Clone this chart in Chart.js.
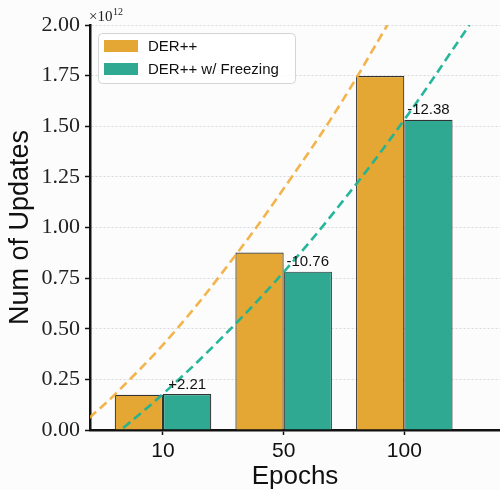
<!DOCTYPE html>
<html>
<head>
<meta charset="utf-8">
<script src="https://cdn.jsdelivr.net/npm/chart.js@4"></script>
<style>
  html, body { margin: 0; padding: 0; background: #fcfcfd; }
  #wrap { width: 500px; height: 490px; }
</style>
</head>
<body>
<div id="wrap"><canvas id="updatesChart" width="500" height="490"></canvas></div>
<script>
// categories (bar positions 0,1,2 on the x axis)
const epochs = ['10', '50', '100'];
const epochPos = [0, 1, 2];

// number of updates, in units of 1e12
const derValues = [0.174, 0.876, 1.748];
const freezeValues = [0.178, 0.782, 1.532];
const changeLabels = ['+2.21', '-10.76', '-12.38'];

// dashed trend curves
const derCurveX = [-0.61, -0.40, 0.08, 0.61, 1.05, 1.46, 1.86];
const derCurveY = [0.06, 0.175, 0.475, 0.87, 1.235, 1.60, 2.00];
const freezeCurveX = [-0.33, 0, 0.47, 1.0, 1.49, 2.0, 2.54];
const freezeCurveY = [0.01, 0.178, 0.445, 0.78, 1.13, 1.532, 2.00];

const yTicks = [0, 0.25, 0.5, 0.75, 1.0, 1.25, 1.5, 1.75, 2.0];

const orange = '#E4A733';
const green = '#2FA992';

function pts(xs, ys) {
    return xs.map((x, i) => ({ x: x, y: ys[i] }));
}

// legend box drawn inside the plot, top left
const legendBox = {
    id: 'legendBox',
    afterDraw(chart) {
        const ctx = chart.ctx;
        const items = chart.data.datasets.filter(d => d.type !== 'line');
        ctx.save();
        ctx.fillStyle = 'rgba(255,255,255,0.85)';
        ctx.strokeStyle = '#d4d4d4';
        ctx.lineWidth = 1;
        ctx.beginPath();
        ctx.roundRect(98.5, 33.5, 197, 50, 4);
        ctx.fill();
        ctx.stroke();
        ctx.font = '15px "Liberation Sans", Arial, sans-serif';
        ctx.textBaseline = 'middle';
        items.forEach((d, i) => {
            const y = 46 + i * 23;
            ctx.fillStyle = d.backgroundColor;
            ctx.fillRect(104, y - 6, 34, 12);
            ctx.fillStyle = '#111';
            ctx.fillText(d.label, 148, y + 1);
        });
        ctx.restore();
    }
};

// percentage change above the freezing bars + the x1e12 offset text
const barNotes = {
    id: 'barNotes',
    afterDraw(chart) {
        const ctx = chart.ctx;
        const meta = chart.getDatasetMeta(1);
        ctx.save();
        ctx.font = '15px "Liberation Sans", Arial, sans-serif';
        ctx.fillStyle = '#111';
        ctx.textAlign = 'center';
        ctx.textBaseline = 'bottom';
        meta.data.forEach((bar, i) => {
            ctx.fillText(changeLabels[i], bar.x, bar.y - 2);
        });
        const area = chart.chartArea;
        ctx.textAlign = 'left';
        ctx.textBaseline = 'alphabetic';
        ctx.font = '15px "Liberation Serif", serif';
        ctx.fillStyle = '#222';
        ctx.fillText('\u00d710', area.left - 1, 21);
        ctx.font = '10px "Liberation Serif", serif';
        ctx.fillText('12', area.left + 23, 15);
        ctx.restore();
    }
};

new Chart(document.getElementById('updatesChart'), {
    type: 'bar',
    data: {
        datasets: [
            {
                label: 'DER++',
                data: pts(epochPos, derValues),
                backgroundColor: orange,
                borderColor: '#333',
                borderWidth: 1.2,
                categoryPercentage: 0.8,
                barPercentage: 1.0,
                order: 2
            },
            {
                label: 'DER++ w/ Freezing',
                data: pts(epochPos, freezeValues),
                backgroundColor: green,
                borderColor: '#333',
                borderWidth: 1.2,
                categoryPercentage: 0.8,
                barPercentage: 1.0,
                order: 2
            },
            {
                type: 'line',
                label: 'DER++ trend',
                data: pts(derCurveX, derCurveY),
                borderColor: 'rgba(242,172,56,0.9)',
                borderWidth: 2.6,
                borderDash: [9, 5],
                pointRadius: 0,
                tension: 0.4,
                clip: 0,
                order: 1
            },
            {
                type: 'line',
                label: 'Freezing trend',
                data: pts(freezeCurveX, freezeCurveY),
                borderColor: 'rgba(28,178,150,0.95)',
                borderWidth: 2.6,
                borderDash: [9, 5],
                pointRadius: 0,
                tension: 0.4,
                clip: 0,
                order: 1
            }
        ]
    },
    options: {
        responsive: false,
        animation: false,
        layout: { padding: { top: 25, left: 0, right: 0, bottom: 0 } },
        plugins: {
            legend: { display: false },
            tooltip: { enabled: false }
        },
        scales: {
            x: {
                type: 'linear',
                min: -0.605,
                max: 2.793,
                offset: false,
                afterBuildTicks: s => { s.ticks = epochPos.map(v => ({ value: v })); },
                afterFit: s => { s.height = 60; },
                ticks: {
                    callback: v => epochs[Math.round(v)],
                    font: { family: '"Liberation Sans", Arial, sans-serif', size: 21 },
                    color: '#111',
                    padding: 4,
                    maxRotation: 0
                },
                grid: {
                    offset: false,
                    drawOnChartArea: false,
                    tickLength: 5,
                    tickColor: '#111',
                    tickWidth: 1.5
                },
                border: { display: true, color: '#111', width: 2.5 },
                title: {
                    display: true,
                    text: 'Epochs',
                    font: { family: '"Liberation Sans", Arial, sans-serif', size: 26, lineHeight: 1 },
                    color: '#111',
                    padding: { top: 0, bottom: 0 }
                }
            },
            y: {
                min: 0,
                max: 2,
                afterBuildTicks: s => { s.ticks = yTicks.map(v => ({ value: v })); },
                afterFit: s => { s.width = 90; },
                ticks: {
                    callback: v => v.toFixed(2),
                    font: { family: '"Liberation Serif", "Times New Roman", serif', size: 22 },
                    color: '#222',
                    padding: 5
                },
                grid: {
                    color: 'rgba(175,180,185,0.5)',
                    lineWidth: 1,
                    tickLength: 5,
                    tickColor: '#111',
                    tickWidth: 1.5,
                    tickBorderDash: []
                },
                border: { display: true, color: '#111', width: 2.5, dash: [2, 2] },
                title: {
                    display: true,
                    text: 'Num of Updates',
                    font: { family: '"Liberation Sans", Arial, sans-serif', size: 27 },
                    color: '#111',
                    padding: { top: 4, bottom: 0 }
                }
            }
        }
    },
    plugins: [legendBox, barNotes]
});
</script>
</body>
</html>
